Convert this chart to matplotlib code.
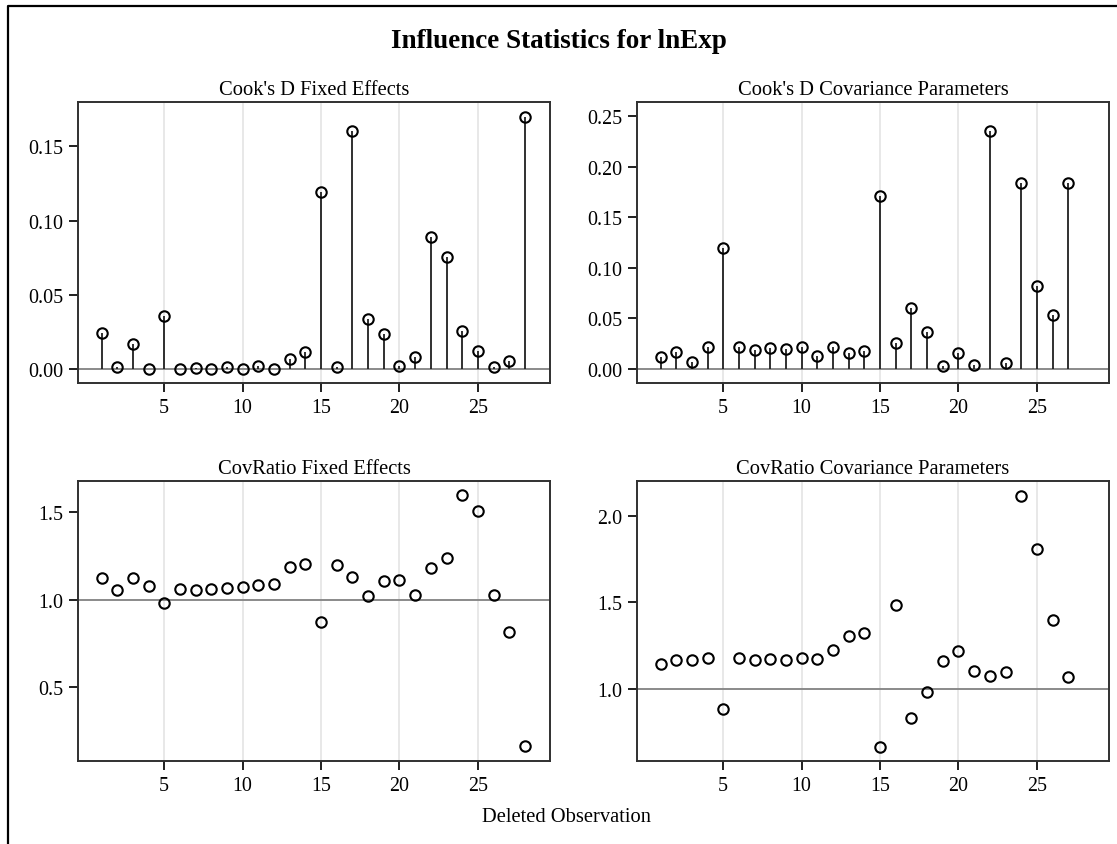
import matplotlib
matplotlib.use("Agg")
import matplotlib.pyplot as plt
from matplotlib.lines import Line2D

plt.rcParams['font.family'] = ['Liberation Serif', 'DejaVu Serif']

# observation numbers
obs_fixed = list(range(1, 29))
obs_cov = list(range(1, 28))

# Cook's D, fixed effects
cooks_fixed = [0.0238, 0.0013, 0.0164, 0.0000, 0.0355, 0.0000, 0.0007, 0.0000,
               0.0013, 0.0000, 0.0020, 0.0000, 0.0065, 0.0112, 0.1190, 0.0013,
               0.1605, 0.0333, 0.0232, 0.0020, 0.0079, 0.0888, 0.0751, 0.0254,
               0.0117, 0.0013, 0.0049, 0.1700]

# Cook's D, covariance parameters
cooks_cov = [0.0122, 0.0172, 0.0069, 0.0221, 0.1197, 0.0221, 0.0191, 0.0211,
             0.0201, 0.0221, 0.0132, 0.0221, 0.0162, 0.0181, 0.1710, 0.0260,
             0.0600, 0.0366, 0.0030, 0.0158, 0.0040, 0.2355, 0.0063, 0.1840,
             0.0818, 0.0531, 0.1840]

# CovRatio, fixed effects
covratio_fixed = [1.124, 1.057, 1.124, 1.078, 0.983, 1.063, 1.057, 1.061,
                  1.068, 1.072, 1.084, 1.089, 1.190, 1.203, 0.873, 1.198,
                  1.129, 1.019, 1.106, 1.112, 1.029, 1.184, 1.240, 1.601,
                  1.506, 1.029, 0.814, 0.162]

# CovRatio, covariance parameters
covratio_cov = [1.144, 1.165, 1.165, 1.179, 0.883, 1.175, 1.165, 1.169,
                1.165, 1.179, 1.169, 1.221, 1.306, 1.323, 0.663, 1.483,
                0.831, 0.981, 1.162, 1.215, 1.104, 1.073, 1.094, 2.115,
                1.808, 1.396, 1.069]

xticks = [5, 10, 15, 20, 25]

W, H = 1117, 845
fig = plt.figure(figsize=(W / 100, H / 100), dpi=100)


def px_axes(x0, y0, x1, y1):
    return fig.add_axes([x0 / W, 1 - y1 / H, (x1 - x0) / W, (y1 - y0) / H])


def style(ax, title, ylim, yticks, fmt):
    ax.set_xlim(-0.5, 29.6)
    ax.set_ylim(*ylim)
    ax.set_xticks(xticks)
    ax.set_yticks(yticks)
    ax.set_yticklabels([fmt.format(v) for v in yticks])
    ax.grid(axis='x', color='#e8e8e8', linewidth=1.4, zorder=0)
    ax.set_axisbelow(True)
    for s in ax.spines.values():
        s.set_color('#303030')
        s.set_linewidth(1.4)
    ax.tick_params(axis='both', direction='out', length=6.5, width=1.4,
                   color='#202020', labelsize=14.4, pad=4,
                   top=False, right=False)
    ax.set_title(title, fontsize=14.8, pad=6)


marker = dict(marker='o', markersize=7.5, markerfacecolor='none',
              markeredgecolor='black', markeredgewidth=1.5, linestyle='none',
              zorder=4)

# Cook's D fixed effects
ax1 = px_axes(78, 103, 550, 384)
ax1.axhline(0, color='#8a8a8a', linewidth=1.4, zorder=2)
ax1.vlines(obs_fixed, 0, cooks_fixed, color='#202020', linewidth=1.3, zorder=3)
ax1.plot(obs_fixed, cooks_fixed, **marker)
style(ax1, "Cook's D Fixed Effects", (-0.0097, 0.18),
      [0.0, 0.05, 0.10, 0.15], '{:.2f}')

# Cook's D covariance parameters
ax2 = px_axes(637, 103, 1109, 384)
ax2.axhline(0, color='#8a8a8a', linewidth=1.4, zorder=2)
ax2.vlines(obs_cov, 0, cooks_cov, color='#202020', linewidth=1.3, zorder=3)
ax2.plot(obs_cov, cooks_cov, **marker)
style(ax2, "Cook's D Covariance Parameters", (-0.0139, 0.2642),
      [0.0, 0.05, 0.10, 0.15, 0.20, 0.25], '{:.2f}')

# CovRatio fixed effects
ax3 = px_axes(78, 482, 550, 762)
ax3.axhline(1, color='#8a8a8a', linewidth=1.4, zorder=2)
ax3.plot(obs_fixed, covratio_fixed, **marker)
style(ax3, "CovRatio Fixed Effects", (0.078, 1.679),
      [0.5, 1.0, 1.5], '{:.1f}')

# CovRatio covariance parameters
ax4 = px_axes(637, 482, 1109, 762)
ax4.axhline(1, color='#8a8a8a', linewidth=1.4, zorder=2)
ax4.plot(obs_cov, covratio_cov, **marker)
style(ax4, "CovRatio Covariance Parameters", (0.581, 2.2),
      [1.0, 1.5, 2.0], '{:.1f}')

fig.text(0.5, 1 - 42 / H, "Influence Statistics for lnExp", ha='center',
         va='center', fontsize=19.5, fontweight='bold')
fig.text(567 / W, 1 - 818 / H, "Deleted Observation", ha='center',
         va='center', fontsize=14.8)

# outer frame (left and top edges visible)
fig.add_artist(Line2D([8 / W, 8 / W, 1.0], [0.0, 1 - 7 / H, 1 - 7 / H],
                      transform=fig.transFigure, color='black', linewidth=1.6))

fig.savefig("out.png", dpi=100)
